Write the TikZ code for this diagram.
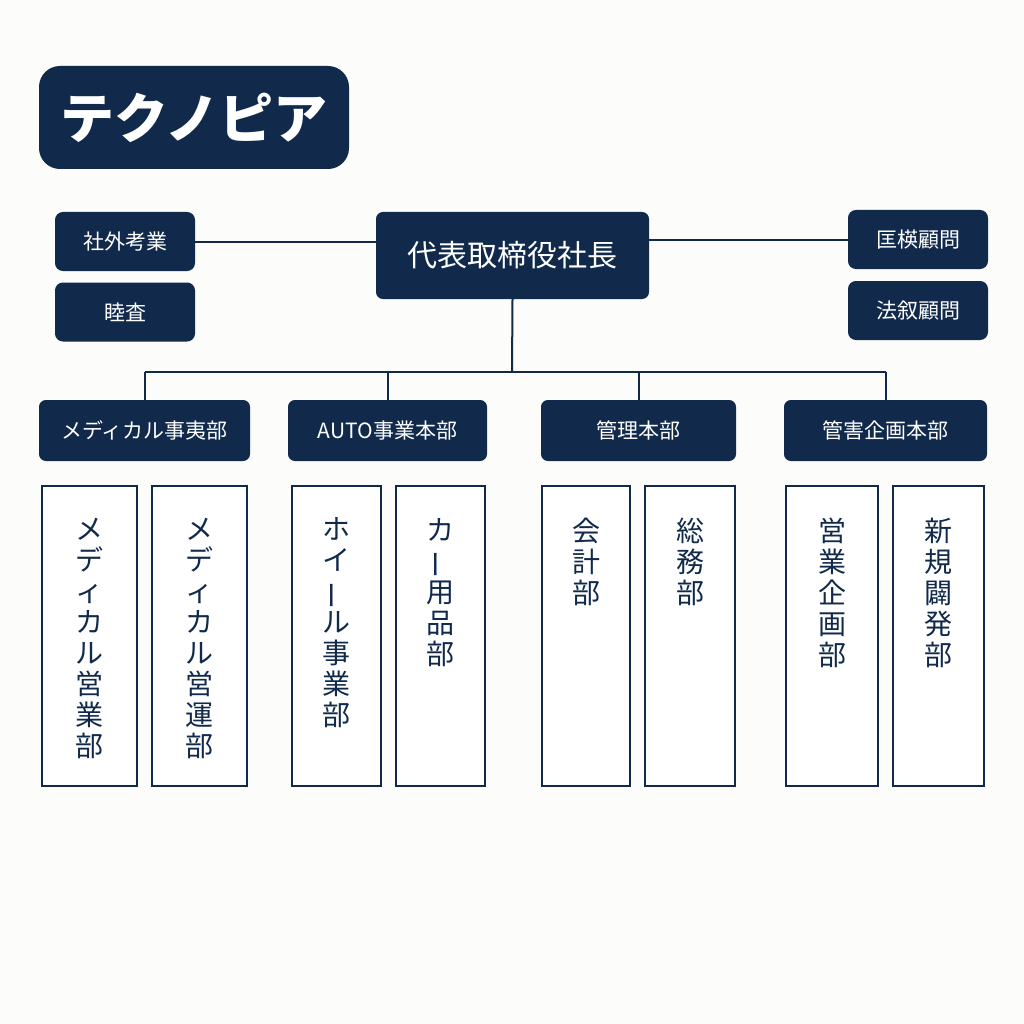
\documentclass[tikz,border=0pt]{standalone}
\usepackage{fontspec}
\setmainfont{Noto Sans CJK JP}
\usepackage{graphicx}
\usepackage{xcolor}
\usepackage{tikz}
\usetikzlibrary{positioning}

\definecolor{navy}{RGB}{17,42,76}
\definecolor{paper}{RGB}{252,252,250}

\newcommand{\vtext}[1]{\parbox[c][236pt][t]{34pt}{\centering #1}}
\newcommand{\vbar}{\rotatebox[origin=c]{90}{ー}}

\begin{document}
\begin{tikzpicture}[
    x=1pt, y=-1pt,
    line width=2pt,
    darkbox/.style={rectangle, rounded corners=7pt, fill=navy, draw=navy, text=white, inner sep=0pt},
    titlebox/.style={darkbox, rounded corners=20pt, minimum width=308pt, minimum height=101pt, font=\fontsize{54}{60}\selectfont\bfseries},
    sidebox/.style={darkbox, minimum width=138pt, minimum height=57pt, font=\fontsize{21}{24}\selectfont},
    ceobox/.style={darkbox, rounded corners=6pt, minimum width=271pt, minimum height=85pt, font=\fontsize{30}{32}\selectfont},
    divbox/.style={darkbox, rounded corners=6pt, minimum height=59pt, font=\fontsize{21}{24}\selectfont},
    deptbox/.style={rectangle, draw=navy, line width=2.6pt, fill=white, text=navy, minimum height=300pt, inner sep=0pt, font=\fontsize{28}{31}\selectfont},
    link/.style={draw=navy, line width=2pt}
]

% Background
\path[fill=paper] (0,0) rectangle (1024,1024);

% Title
\node[titlebox] (title) at (194,117.5) {テクノピア};

% Top level
\node[ceobox] (ceo) at (512.5,255.5) {代表取楴役社長};
\node[sidebox] (outside) at (125,241.5) {社外考業};
\node[sidebox] (audit) at (125,312) {睦査};
\node[sidebox] (adv1) at (918,239.5) {匡楧顧問};
\node[sidebox] (adv2) at (918,310.5) {法叙顧問};

% Divisions
\node[divbox, minimum width=209pt] (med) at (144.5,430.5) {メディカル事夷部};
\node[divbox, minimum width=197pt] (auto) at (387.5,430.5) {AUTO事業本部};
\node[divbox, minimum width=193pt] (admin) at (638.5,430.5) {管理本部};
\node[divbox, minimum width=201pt] (sales) at (885.5,430.5) {管害企画本部};

% Departments
\node[deptbox, minimum width=95pt] (medsales) at (89.5,636) {\vtext{メ\\デ\\ィ\\カ\\ル\\営\\業\\部}};
\node[deptbox, minimum width=95pt] (medops) at (199.5,636) {\vtext{メ\\デ\\ィ\\カ\\ル\\営\\運\\部}};
\node[deptbox, minimum width=89pt] (wheel) at (336.5,636) {\vtext{ホ\\イ\\\vbar\\ル\\事\\業\\部}};
\node[deptbox, minimum width=89pt] (carparts) at (440.5,636) {\vtext{カ\\\vbar\\用\\品\\部}};
\node[deptbox, minimum width=88pt] (account) at (586,636) {\vtext{会\\計\\部}};
\node[deptbox, minimum width=90pt] (general) at (690,636) {\vtext{総\\務\\部}};
\node[deptbox, minimum width=92pt] (planning) at (832,636) {\vtext{営\\業\\企\\画\\部}};
\node[deptbox, minimum width=91pt] (newdev) at (938.5,636) {\vtext{新\\規\\闢\\発\\部}};

% Connectors
\coordinate (bus) at (512,372);
\draw[link] (outside.east) -- (outside.east -| ceo.west);
\draw[link] (ceo.east |- adv1.west) -- (adv1.west);
\draw[link] (ceo.south) -- (bus);
\draw[link] (med.north |- bus) -- (sales.north |- bus);
\foreach \d in {med,auto,admin,sales}
    \draw[link] (\d.north) -- (\d.north |- bus);

\end{tikzpicture}
\end{document}
